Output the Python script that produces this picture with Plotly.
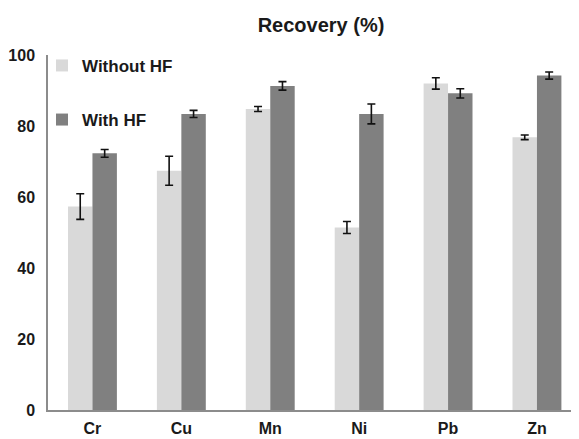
import plotly.graph_objects as go

categories = ["Cr", "Cu", "Mn", "Ni", "Pb", "Zn"]
without_hf = [57.3, 67.4, 84.8, 51.4, 92.0, 76.8]
without_hf_err = [3.6, 4.1, 0.7, 1.7, 1.6, 0.65]
with_hf = [72.3, 83.4, 91.3, 83.4, 89.2, 94.2]
with_hf_err = [1.1, 1.0, 1.2, 2.8, 1.3, 1.0]
y_ticks = [0, 20, 40, 60, 80, 100]

FONT = "Arial, Liberation Sans, sans-serif"

fig = go.Figure()
fig.add_trace(go.Bar(
    x=categories, y=without_hf, name="<b>Without HF</b>",
    marker=dict(color="#d9d9d9", line=dict(width=0)),
    error_y=dict(type="data", array=without_hf_err, color="#111111", thickness=1.6, width=4),
    legendgroup="a",
))
fig.add_trace(go.Bar(
    x=categories, y=with_hf, name="<b>With HF</b>",
    marker=dict(color="#808080", line=dict(width=0)),
    error_y=dict(type="data", array=with_hf_err, color="#111111", thickness=1.6, width=4),
    legendgroup="b",
))

# The page body has an 8px margin, so the figure is sized/offset to compensate.
fig.update_layout(
    width=571, height=431,
    margin=dict(l=40, r=0, t=47, b=29, autoexpand=False),
    paper_bgcolor="white", plot_bgcolor="white",
    barmode="group", bargap=0.45, bargroupgap=0.0,
    font=dict(family=FONT, size=17, color="#1a1a1a"),
    title=dict(text="<b>Recovery (%)</b>", x=313 / 571, xref="container", xanchor="center",
               y=1 - 17 / 431, yanchor="middle", yref="container",
               font=dict(size=20, family=FONT, color="#1a1a1a")),
    showlegend=True,
    legend=dict(x=-0.0113, y=1.02, xanchor="left", yanchor="top",
                bgcolor="rgba(0,0,0,0)", tracegroupgap=29,
                font=dict(size=17, family=FONT, color="#1a1a1a"),
                itemwidth=30, traceorder="grouped"),
    xaxis=dict(range=[-0.5, 5.473], showline=True, linecolor="#8c8c8c", linewidth=1.5,
               ticks="", showgrid=False, zeroline=False,
               tickfont=dict(size=16, family=FONT), ticklabelstandoff=3,
               tickvals=categories, ticktext=[f"<b>{c}</b>" for c in categories]),
    yaxis=dict(range=[0, 100], showline=True, linecolor="#8c8c8c", linewidth=1.5,
               ticks="", showgrid=False, zeroline=False,
               tickvals=y_ticks, ticktext=[f"<b>{t}</b>" for t in y_ticks],
               tickfont=dict(size=16, family=FONT), ticklabelstandoff=8),
)

fig.write_html("out.html")
